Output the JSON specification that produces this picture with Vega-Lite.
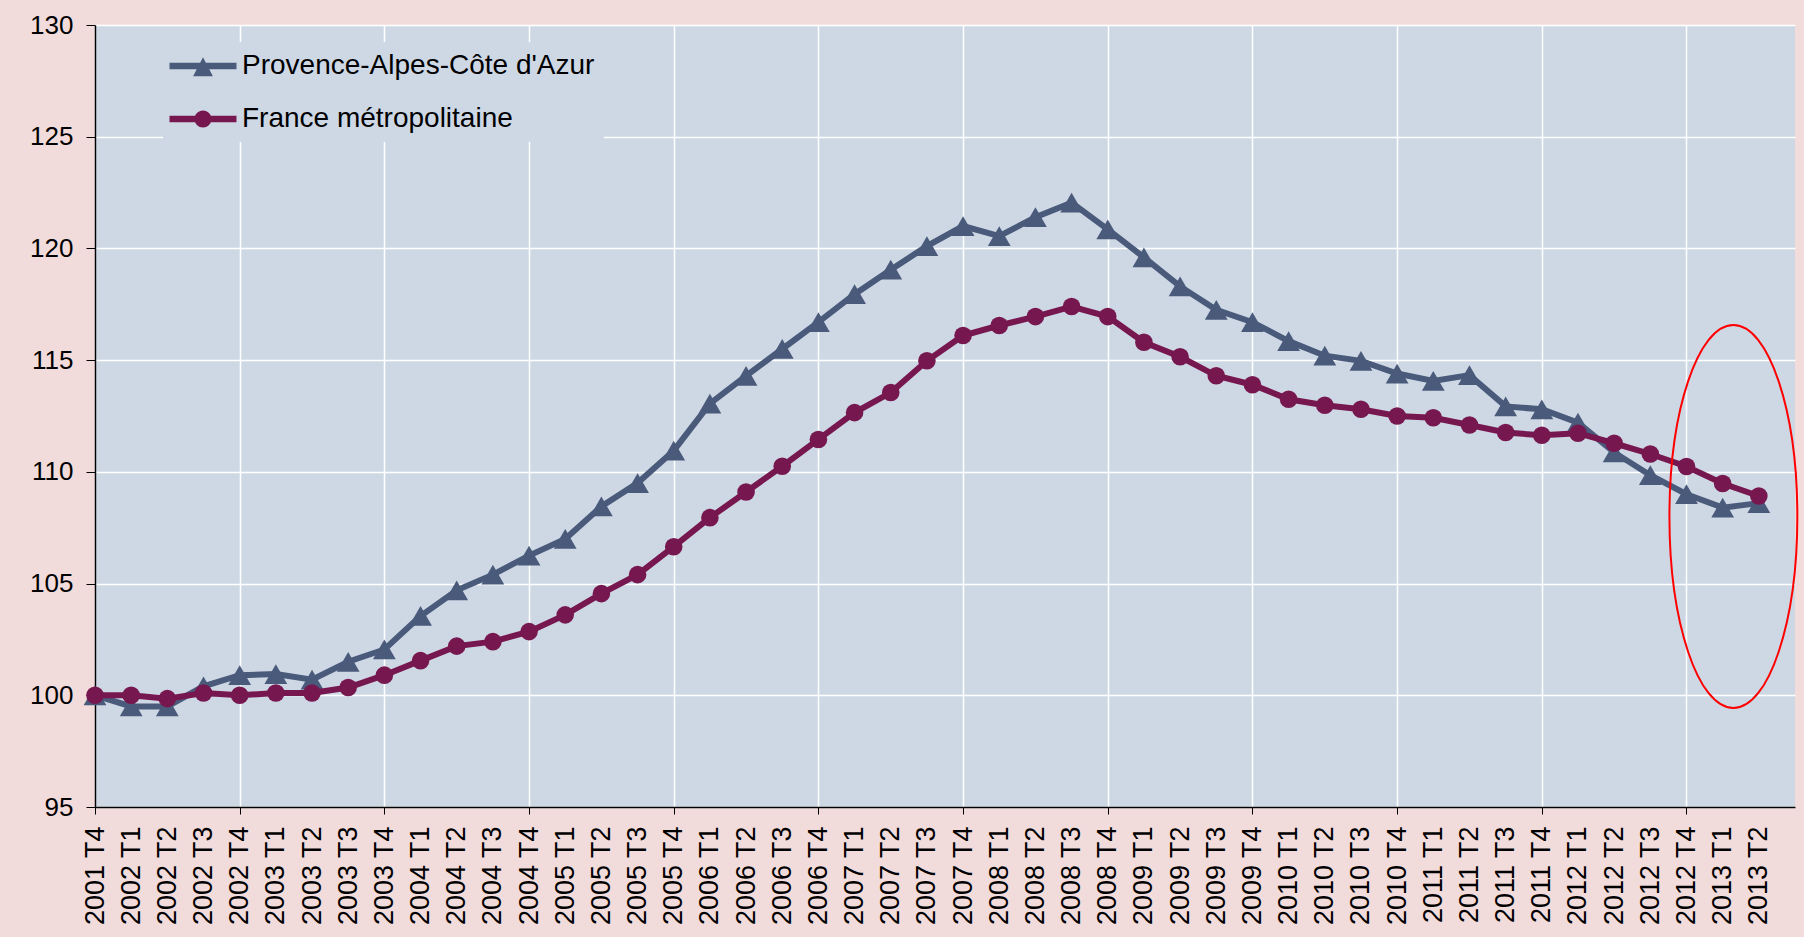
{
  "$schema": "https://vega.github.io/schema/vega-lite/v6.json",
  "width": 1700,
  "height": 782,
  "autosize": {"type": "none"},
  "padding": {"left": 95, "top": 25, "right": 9, "bottom": 130},
  "background": "#F2DCDB",
  "config": {
    "font": "Liberation Sans",
    "view": {"fill": "#CED8E5", "stroke": null},
    "legend": {
      "labelLimit": 800,
      "symbolStrokeWidth": 0
    }
  },
  "datasets": {
    "series": [
      {"q": "2001 T4", "s": "Provence-Alpes-Côte d'Azur", "v": 100.0},
      {"q": "2002 T1", "s": "Provence-Alpes-Côte d'Azur", "v": 99.5},
      {"q": "2002 T2", "s": "Provence-Alpes-Côte d'Azur", "v": 99.5},
      {"q": "2002 T3", "s": "Provence-Alpes-Côte d'Azur", "v": 100.4},
      {"q": "2002 T4", "s": "Provence-Alpes-Côte d'Azur", "v": 100.9},
      {"q": "2003 T1", "s": "Provence-Alpes-Côte d'Azur", "v": 100.95},
      {"q": "2003 T2", "s": "Provence-Alpes-Côte d'Azur", "v": 100.7},
      {"q": "2003 T3", "s": "Provence-Alpes-Côte d'Azur", "v": 101.5},
      {"q": "2003 T4", "s": "Provence-Alpes-Côte d'Azur", "v": 102.05},
      {"q": "2004 T1", "s": "Provence-Alpes-Côte d'Azur", "v": 103.55},
      {"q": "2004 T2", "s": "Provence-Alpes-Côte d'Azur", "v": 104.7},
      {"q": "2004 T3", "s": "Provence-Alpes-Côte d'Azur", "v": 105.4},
      {"q": "2004 T4", "s": "Provence-Alpes-Côte d'Azur", "v": 106.25},
      {"q": "2005 T1", "s": "Provence-Alpes-Côte d'Azur", "v": 107.0},
      {"q": "2005 T2", "s": "Provence-Alpes-Côte d'Azur", "v": 108.45},
      {"q": "2005 T3", "s": "Provence-Alpes-Côte d'Azur", "v": 109.5},
      {"q": "2005 T4", "s": "Provence-Alpes-Côte d'Azur", "v": 110.95},
      {"q": "2006 T1", "s": "Provence-Alpes-Côte d'Azur", "v": 113.05},
      {"q": "2006 T2", "s": "Provence-Alpes-Côte d'Azur", "v": 114.3},
      {"q": "2006 T3", "s": "Provence-Alpes-Côte d'Azur", "v": 115.5},
      {"q": "2006 T4", "s": "Provence-Alpes-Côte d'Azur", "v": 116.7},
      {"q": "2007 T1", "s": "Provence-Alpes-Côte d'Azur", "v": 117.95},
      {"q": "2007 T2", "s": "Provence-Alpes-Côte d'Azur", "v": 119.05},
      {"q": "2007 T3", "s": "Provence-Alpes-Côte d'Azur", "v": 120.1},
      {"q": "2007 T4", "s": "Provence-Alpes-Côte d'Azur", "v": 121.0},
      {"q": "2008 T1", "s": "Provence-Alpes-Côte d'Azur", "v": 120.55},
      {"q": "2008 T2", "s": "Provence-Alpes-Côte d'Azur", "v": 121.4},
      {"q": "2008 T3", "s": "Provence-Alpes-Côte d'Azur", "v": 122.05},
      {"q": "2008 T4", "s": "Provence-Alpes-Côte d'Azur", "v": 120.85},
      {"q": "2009 T1", "s": "Provence-Alpes-Côte d'Azur", "v": 119.6},
      {"q": "2009 T2", "s": "Provence-Alpes-Côte d'Azur", "v": 118.3},
      {"q": "2009 T3", "s": "Provence-Alpes-Côte d'Azur", "v": 117.25},
      {"q": "2009 T4", "s": "Provence-Alpes-Côte d'Azur", "v": 116.7},
      {"q": "2010 T1", "s": "Provence-Alpes-Côte d'Azur", "v": 115.85},
      {"q": "2010 T2", "s": "Provence-Alpes-Côte d'Azur", "v": 115.2},
      {"q": "2010 T3", "s": "Provence-Alpes-Côte d'Azur", "v": 114.97},
      {"q": "2010 T4", "s": "Provence-Alpes-Côte d'Azur", "v": 114.4},
      {"q": "2011 T1", "s": "Provence-Alpes-Côte d'Azur", "v": 114.07},
      {"q": "2011 T2", "s": "Provence-Alpes-Côte d'Azur", "v": 114.33},
      {"q": "2011 T3", "s": "Provence-Alpes-Côte d'Azur", "v": 112.93},
      {"q": "2011 T4", "s": "Provence-Alpes-Côte d'Azur", "v": 112.8},
      {"q": "2012 T1", "s": "Provence-Alpes-Côte d'Azur", "v": 112.2},
      {"q": "2012 T2", "s": "Provence-Alpes-Côte d'Azur", "v": 110.87},
      {"q": "2012 T3", "s": "Provence-Alpes-Côte d'Azur", "v": 109.85},
      {"q": "2012 T4", "s": "Provence-Alpes-Côte d'Azur", "v": 109.0},
      {"q": "2013 T1", "s": "Provence-Alpes-Côte d'Azur", "v": 108.4},
      {"q": "2013 T2", "s": "Provence-Alpes-Côte d'Azur", "v": 108.6},
      {"q": "2001 T4", "s": "France métropolitaine", "v": 100.0},
      {"q": "2002 T1", "s": "France métropolitaine", "v": 100.0},
      {"q": "2002 T2", "s": "France métropolitaine", "v": 99.85},
      {"q": "2002 T3", "s": "France métropolitaine", "v": 100.1},
      {"q": "2002 T4", "s": "France métropolitaine", "v": 100.0},
      {"q": "2003 T1", "s": "France métropolitaine", "v": 100.1},
      {"q": "2003 T2", "s": "France métropolitaine", "v": 100.1},
      {"q": "2003 T3", "s": "France métropolitaine", "v": 100.35},
      {"q": "2003 T4", "s": "France métropolitaine", "v": 100.9},
      {"q": "2004 T1", "s": "France métropolitaine", "v": 101.55},
      {"q": "2004 T2", "s": "France métropolitaine", "v": 102.2},
      {"q": "2004 T3", "s": "France métropolitaine", "v": 102.4},
      {"q": "2004 T4", "s": "France métropolitaine", "v": 102.85},
      {"q": "2005 T1", "s": "France métropolitaine", "v": 103.6},
      {"q": "2005 T2", "s": "France métropolitaine", "v": 104.55},
      {"q": "2005 T3", "s": "France métropolitaine", "v": 105.4},
      {"q": "2005 T4", "s": "France métropolitaine", "v": 106.65},
      {"q": "2006 T1", "s": "France métropolitaine", "v": 107.95},
      {"q": "2006 T2", "s": "France métropolitaine", "v": 109.1},
      {"q": "2006 T3", "s": "France métropolitaine", "v": 110.25},
      {"q": "2006 T4", "s": "France métropolitaine", "v": 111.45},
      {"q": "2007 T1", "s": "France métropolitaine", "v": 112.65},
      {"q": "2007 T2", "s": "France métropolitaine", "v": 113.55},
      {"q": "2007 T3", "s": "France métropolitaine", "v": 114.97},
      {"q": "2007 T4", "s": "France métropolitaine", "v": 116.1},
      {"q": "2008 T1", "s": "France métropolitaine", "v": 116.55},
      {"q": "2008 T2", "s": "France métropolitaine", "v": 116.95},
      {"q": "2008 T3", "s": "France métropolitaine", "v": 117.4},
      {"q": "2008 T4", "s": "France métropolitaine", "v": 116.95},
      {"q": "2009 T1", "s": "France métropolitaine", "v": 115.8},
      {"q": "2009 T2", "s": "France métropolitaine", "v": 115.15},
      {"q": "2009 T3", "s": "France métropolitaine", "v": 114.3},
      {"q": "2009 T4", "s": "France métropolitaine", "v": 113.9},
      {"q": "2010 T1", "s": "France métropolitaine", "v": 113.25},
      {"q": "2010 T2", "s": "France métropolitaine", "v": 112.98},
      {"q": "2010 T3", "s": "France métropolitaine", "v": 112.8},
      {"q": "2010 T4", "s": "France métropolitaine", "v": 112.5},
      {"q": "2011 T1", "s": "France métropolitaine", "v": 112.42},
      {"q": "2011 T2", "s": "France métropolitaine", "v": 112.1},
      {"q": "2011 T3", "s": "France métropolitaine", "v": 111.76},
      {"q": "2011 T4", "s": "France métropolitaine", "v": 111.64},
      {"q": "2012 T1", "s": "France métropolitaine", "v": 111.73},
      {"q": "2012 T2", "s": "France métropolitaine", "v": 111.28},
      {"q": "2012 T3", "s": "France métropolitaine", "v": 110.8},
      {"q": "2012 T4", "s": "France métropolitaine", "v": 110.24},
      {"q": "2013 T1", "s": "France métropolitaine", "v": 109.48},
      {"q": "2013 T2", "s": "France métropolitaine", "v": 108.92}
    ],
    "highlight": [
      {"q": "2013 T1", "v": 108.0}
    ]
  },
  "encoding": {
    "x": {
      "field": "q",
      "type": "ordinal",
      "scale": {
        "type": "point",
        "padding": 0,
        "domain": ["2001 T4","2002 T1","2002 T2","2002 T3","2002 T4","2003 T1","2003 T2","2003 T3","2003 T4","2004 T1","2004 T2","2004 T3","2004 T4","2005 T1","2005 T2","2005 T3","2005 T4","2006 T1","2006 T2","2006 T3","2006 T4","2007 T1","2007 T2","2007 T3","2007 T4","2008 T1","2008 T2","2008 T3","2008 T4","2009 T1","2009 T2","2009 T3","2009 T4","2010 T1","2010 T2","2010 T3","2010 T4","2011 T1","2011 T2","2011 T3","2011 T4","2012 T1","2012 T2","2012 T3","2012 T4","2013 T1","2013 T2","2013 T3"]
      },
      "axis": {
        "title": null,
        "labelAngle": -90,
        "labelFontSize": 27,
        "labelColor": "black",
        "labelPadding": 12,
        "labelOverlap": false,
        "labelExpr": "datum.value == '2013 T3' ? '' : datum.value",
        "tickSize": 7,
        "tickColor": "black",
        "tickOpacity": {"condition": {"test": "indexof(datum.value, 'T4') >= 0", "value": 1}, "value": 0},
        "domainColor": "black",
        "domainWidth": 1.5,
        "grid": true,
        "gridColor": "white",
        "gridWidth": 1.5,
        "gridOpacity": {"condition": {"test": "indexof(datum.value, 'T4') >= 0", "value": 1}, "value": 0}
      }
    },
    "y": {
      "field": "v",
      "type": "quantitative",
      "scale": {"domain": [95, 130], "nice": false, "zero": false},
      "axis": {
        "title": null,
        "values": [95, 100, 105, 110, 115, 120, 125, 130],
        "labelFontSize": 26,
        "labelColor": "black",
        "labelPadding": 13,
        "tickSize": 9,
        "tickColor": "black",
        "domainColor": "black",
        "domainWidth": 1.5,
        "gridColor": "white",
        "gridWidth": 1.5
      }
    },
    "color": {
      "field": "s",
      "type": "nominal",
      "scale": {"domain": ["Provence-Alpes-Côte d'Azur", "France métropolitaine"], "range": ["#4A5A7B", "#77174F"]},
      "legend": {
        "orient": "none",
        "legendX": 68,
        "legendY": 17,
        "title": null,
        "fillColor": "#CED8E5",
        "padding": 9,
        "labelFontSize": 28,
        "labelColor": "black",
        "labelLimit": 800,
        "symbolSize": 900,
        "symbolStrokeWidth": 0,
        "symbolOffset": 16,
        "labelOffset": 24,
        "rowPadding": 24
      }
    }
  },
  "layer": [
    {
      "data": {"name": "series"},
      "transform": [{"filter": "datum.s !== 'France métropolitaine'"}],
      "mark": {"type": "line", "strokeWidth": 6},
      "encoding": {}
    },
    {
      "data": {"name": "series"},
      "transform": [{"filter": "datum.s !== 'France métropolitaine'"}],
      "mark": {"type": "point", "filled": true, "opacity": 1, "shape": "triangle-up", "size": 520},
      "encoding": {}
    },
    {
      "data": {"name": "series"},
      "transform": [{"filter": "datum.s === 'France métropolitaine'"}],
      "mark": {"type": "line", "strokeWidth": 6},
      "encoding": {}
    },
    {
      "data": {"name": "series"},
      "transform": [{"filter": "datum.s === 'France métropolitaine'"}],
      "mark": {"type": "point", "filled": true, "opacity": 1, "shape": "circle", "size": 310},
      "encoding": {}
    },
    {
      "data": {"name": "series"},
      "transform": [{"filter": "false"}],
      "mark": {"type": "point", "filled": true, "opacity": 1},
      "encoding": {
        "shape": {
          "field": "s",
          "type": "nominal",
          "scale": {
            "domain": ["Provence-Alpes-Côte d'Azur", "France métropolitaine"],
            "range": [
              "M -2.233 -0.217 L 2.233 -0.217 L 2.233 0.217 L -2.233 0.217 Z M 0 -0.58 L 0.66 0.68 L -0.66 0.68 Z",
              "M -2.233 -0.217 L 2.233 -0.217 L 2.233 0.217 L -2.233 0.217 Z M -0.57 0 C -0.57 -0.315 -0.315 -0.57 0 -0.57 C 0.315 -0.57 0.57 -0.315 0.57 0 C 0.57 0.315 0.315 0.57 0 0.57 C -0.315 0.57 -0.57 0.315 -0.57 0 Z"
            ]
          },
          "legend": {
            "orient": "none",
            "legendX": 68,
            "legendY": 17,
            "title": null,
            "fillColor": "#CED8E5",
            "padding": 9,
            "labelFontSize": 28,
            "labelColor": "black",
            "labelLimit": 800,
            "symbolSize": 900,
            "symbolStrokeWidth": 0,
            "symbolOffset": 16,
            "labelOffset": 24,
            "rowPadding": 24
          }
        }
      }
    },
    {
      "data": {"name": "highlight"},
      "mark": {
        "type": "point",
        "filled": false,
        "stroke": "#FF0000",
        "strokeWidth": 2,
        "opacity": 1,
        "size": 146689,
        "shape": "M -0.278 0 C -0.278 -0.5523 -0.1285 -1 0.056 -1 C 0.2405 -1 0.39 -0.5523 0.39 0 C 0.39 0.5523 0.2405 1 0.056 1 C -0.1285 1 -0.278 0.5523 -0.278 0 Z"
      },
      "encoding": {"color": {"value": "#FF0000"}}
    }
  ]
}
